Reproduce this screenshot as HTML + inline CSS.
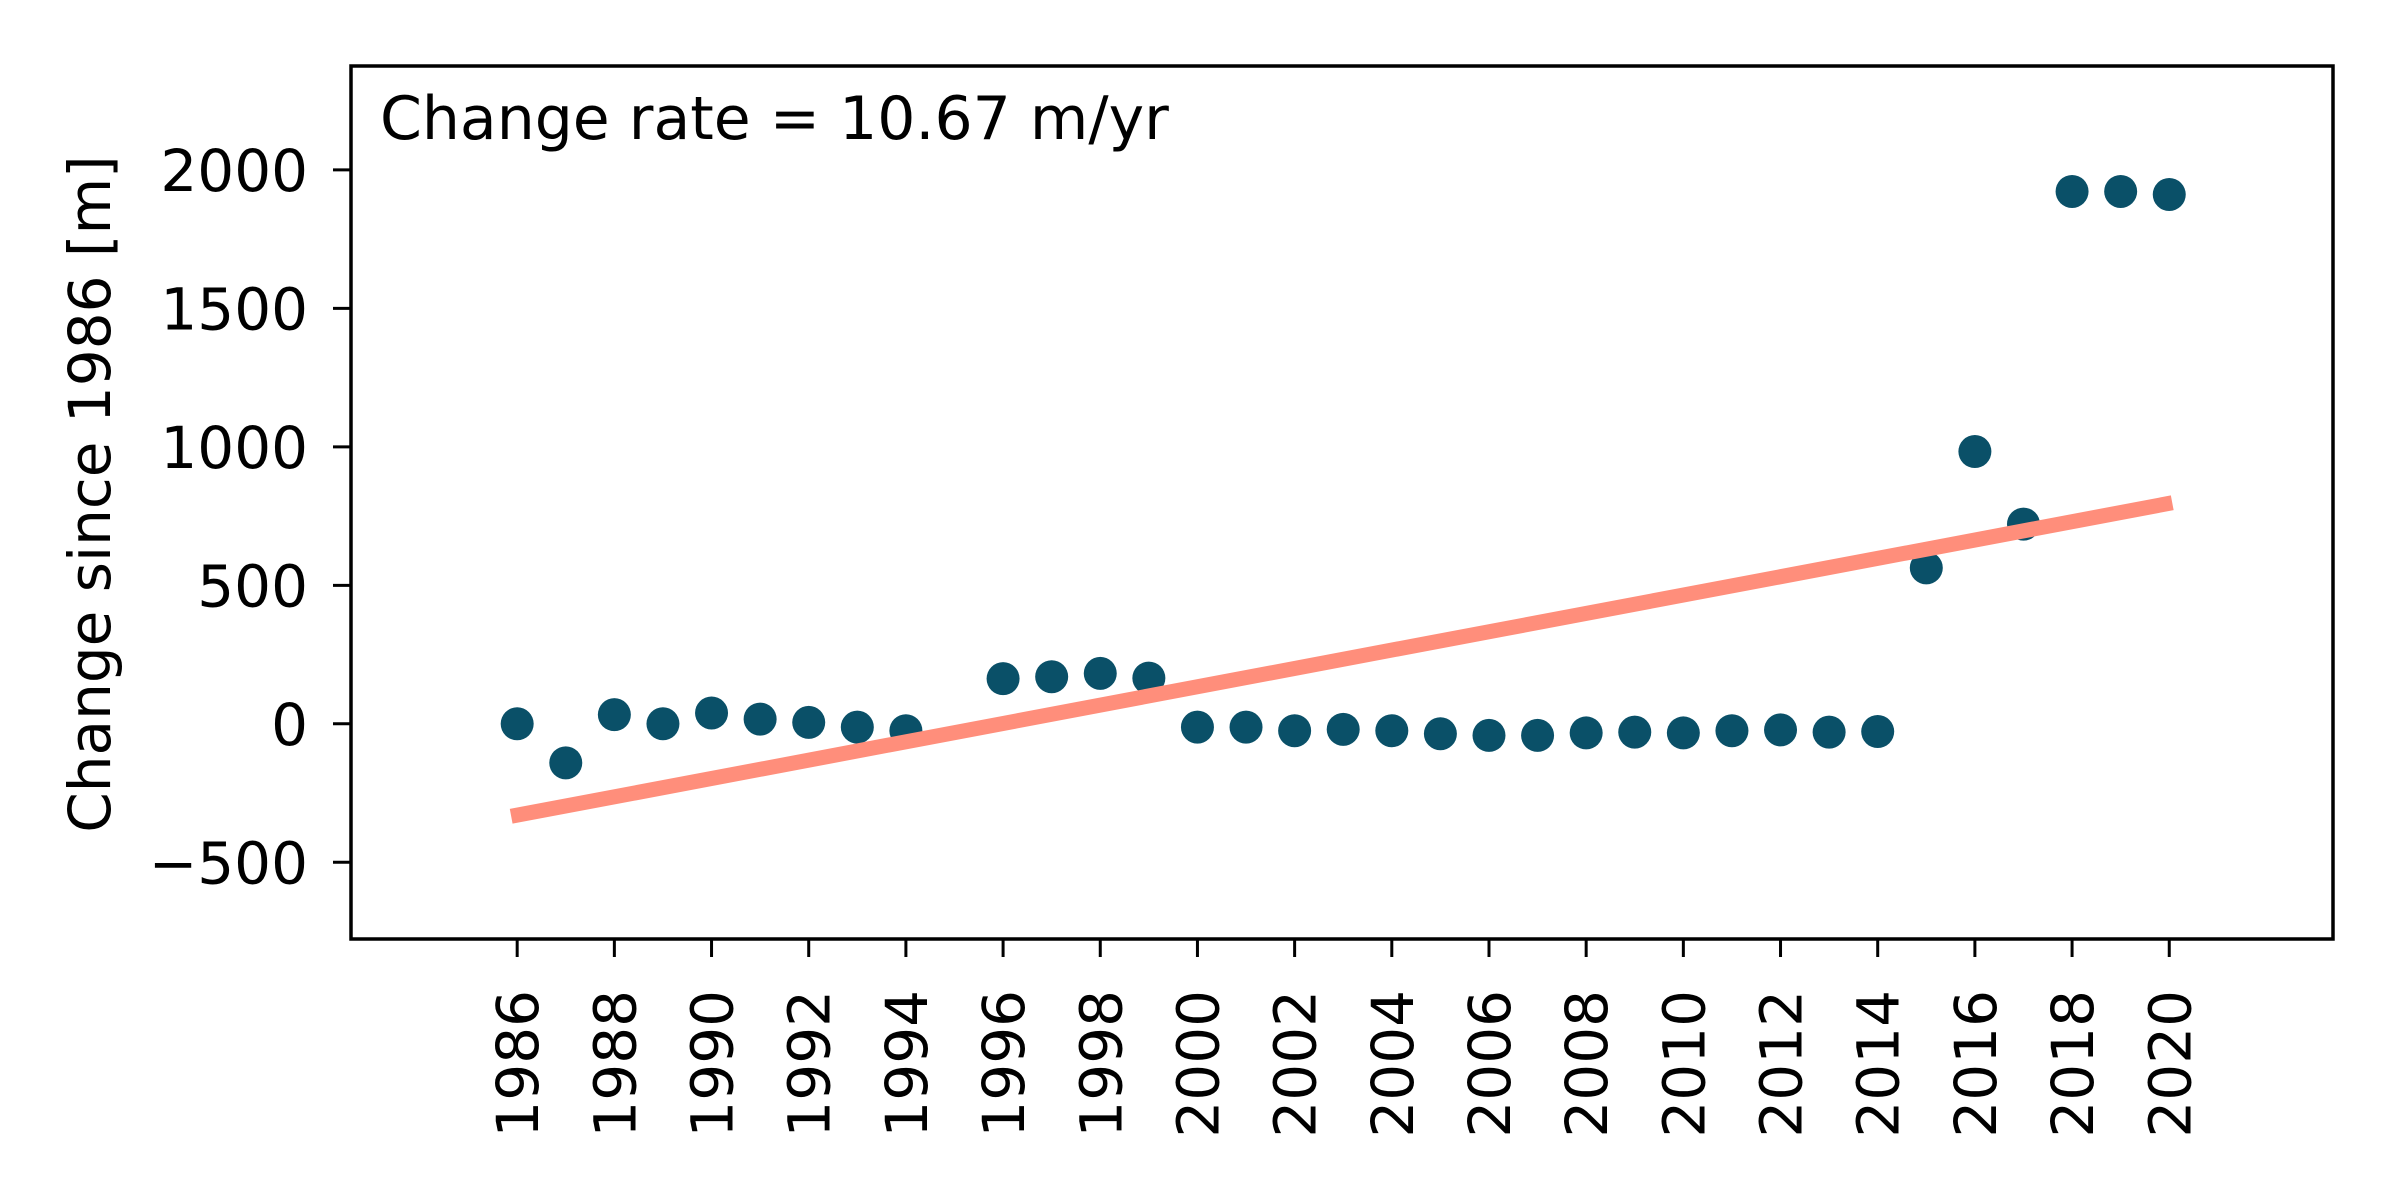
<!DOCTYPE html>
<html><head><meta charset="utf-8"><style>
html,body{margin:0;padding:0;background:#fff;}
svg{display:block;font-family:"DejaVu Sans","Liberation Sans",sans-serif;}
</style></head><body>
<svg id="chart" width="2400" height="1200" viewBox="0 0 2400 1200" xmlns="http://www.w3.org/2000/svg">
<rect width="2400" height="1200" fill="#fff"/>
<g id="plot"></g>
</svg>
<script>
const years = [1986,1987,1988,1989,1990,1991,1992,1993,1994,1996,1997,1998,1999,2000,2001,2002,2003,2004,2005,2006,2007,2008,2009,2010,2011,2012,2013,2014,2015,2016,2017,2018,2019,2020];
const changes = [0,-141,33,0,39,17,5,-12,-25,163,170,182,165,-12,-12,-25,-20,-25,-36,-42,-42,-33,-30,-33,-25,-22,-30,-28,563,983,721,1922,1922,1911];
const trendYears = [1986,2020];
const trendValues = [-334,798];
const xTicks = [1986,1988,1990,1992,1994,1996,1998,2000,2002,2004,2006,2008,2010,2012,2014,2016,2018,2020];
const yTicks = [-500,0,500,1000,1500,2000];
const yTickLabels = ["\u2212500","0","500","1000","1500","2000"];
const annotation = "Change rate = 10.67 m/yr";

const L=351,R=2333,T=66,B=939;
const xMin=1982.58,xMax=2023.37,yMin=-777,yMax=2375;
const sx=v=>L+(v-xMin)/(xMax-xMin)*(R-L);
const sy=v=>B-(v-yMin)/(yMax-yMin)*(B-T);
const NS="http://www.w3.org/2000/svg";
const g=document.getElementById('plot');
function mk(tag,attrs,parent){const e=document.createElementNS(NS,tag);for(const k in attrs)e.setAttribute(k,attrs[k]);(parent||g).appendChild(e);return e;}

const dots=mk('g',{});


years.forEach((y,i)=>{
  const c=mk('circle',{cx:sx(y),cy:sy(changes[i]),r:16.5,fill:'#0a5068'},dots);
  
  
});
const tl=mk('line',{x1:sx(trendYears[0])-6,y1:sy(trendValues[0]),x2:sx(trendYears[1])+3,y2:sy(trendValues[1]),stroke:'#ff8e7b','stroke-width':15});



const frame=mk('rect',{x:L,y:T,width:R-L,height:B-T,fill:'none',stroke:'#000','stroke-width':3.5});



yTicks.forEach((v,i)=>{
  const y=sy(v);
  const t=mk('line',{x1:L-18,y1:y,x2:L,y2:y,stroke:'#000','stroke-width':3});
  
  
  const tx=mk('text',{x:308,y:y+21,'text-anchor':'end','font-size':58,fill:'#000'});
  tx.textContent=yTickLabels[i];
  
  
});
xTicks.forEach(v=>{
  const x=sx(v);
  const t=mk('line',{x1:x,y1:B,x2:x,y2:B+18,stroke:'#000','stroke-width':3});
  
  
  const tx=mk('text',{x:0,y:0,'text-anchor':'end','font-size':58,fill:'#000',transform:`translate(${x+21},990) rotate(-90)`});
  tx.textContent=String(v);
  
  
});
const yl=mk('text',{x:0,y:0,'text-anchor':'middle','font-size':58,fill:'#000',transform:`translate(110,494) rotate(-90)`});
yl.textContent="Change since 1986 [m]";


const an=mk('text',{x:380,y:139,'font-size':60,fill:'#000'});
an.textContent=annotation;


</script>
</body></html>
